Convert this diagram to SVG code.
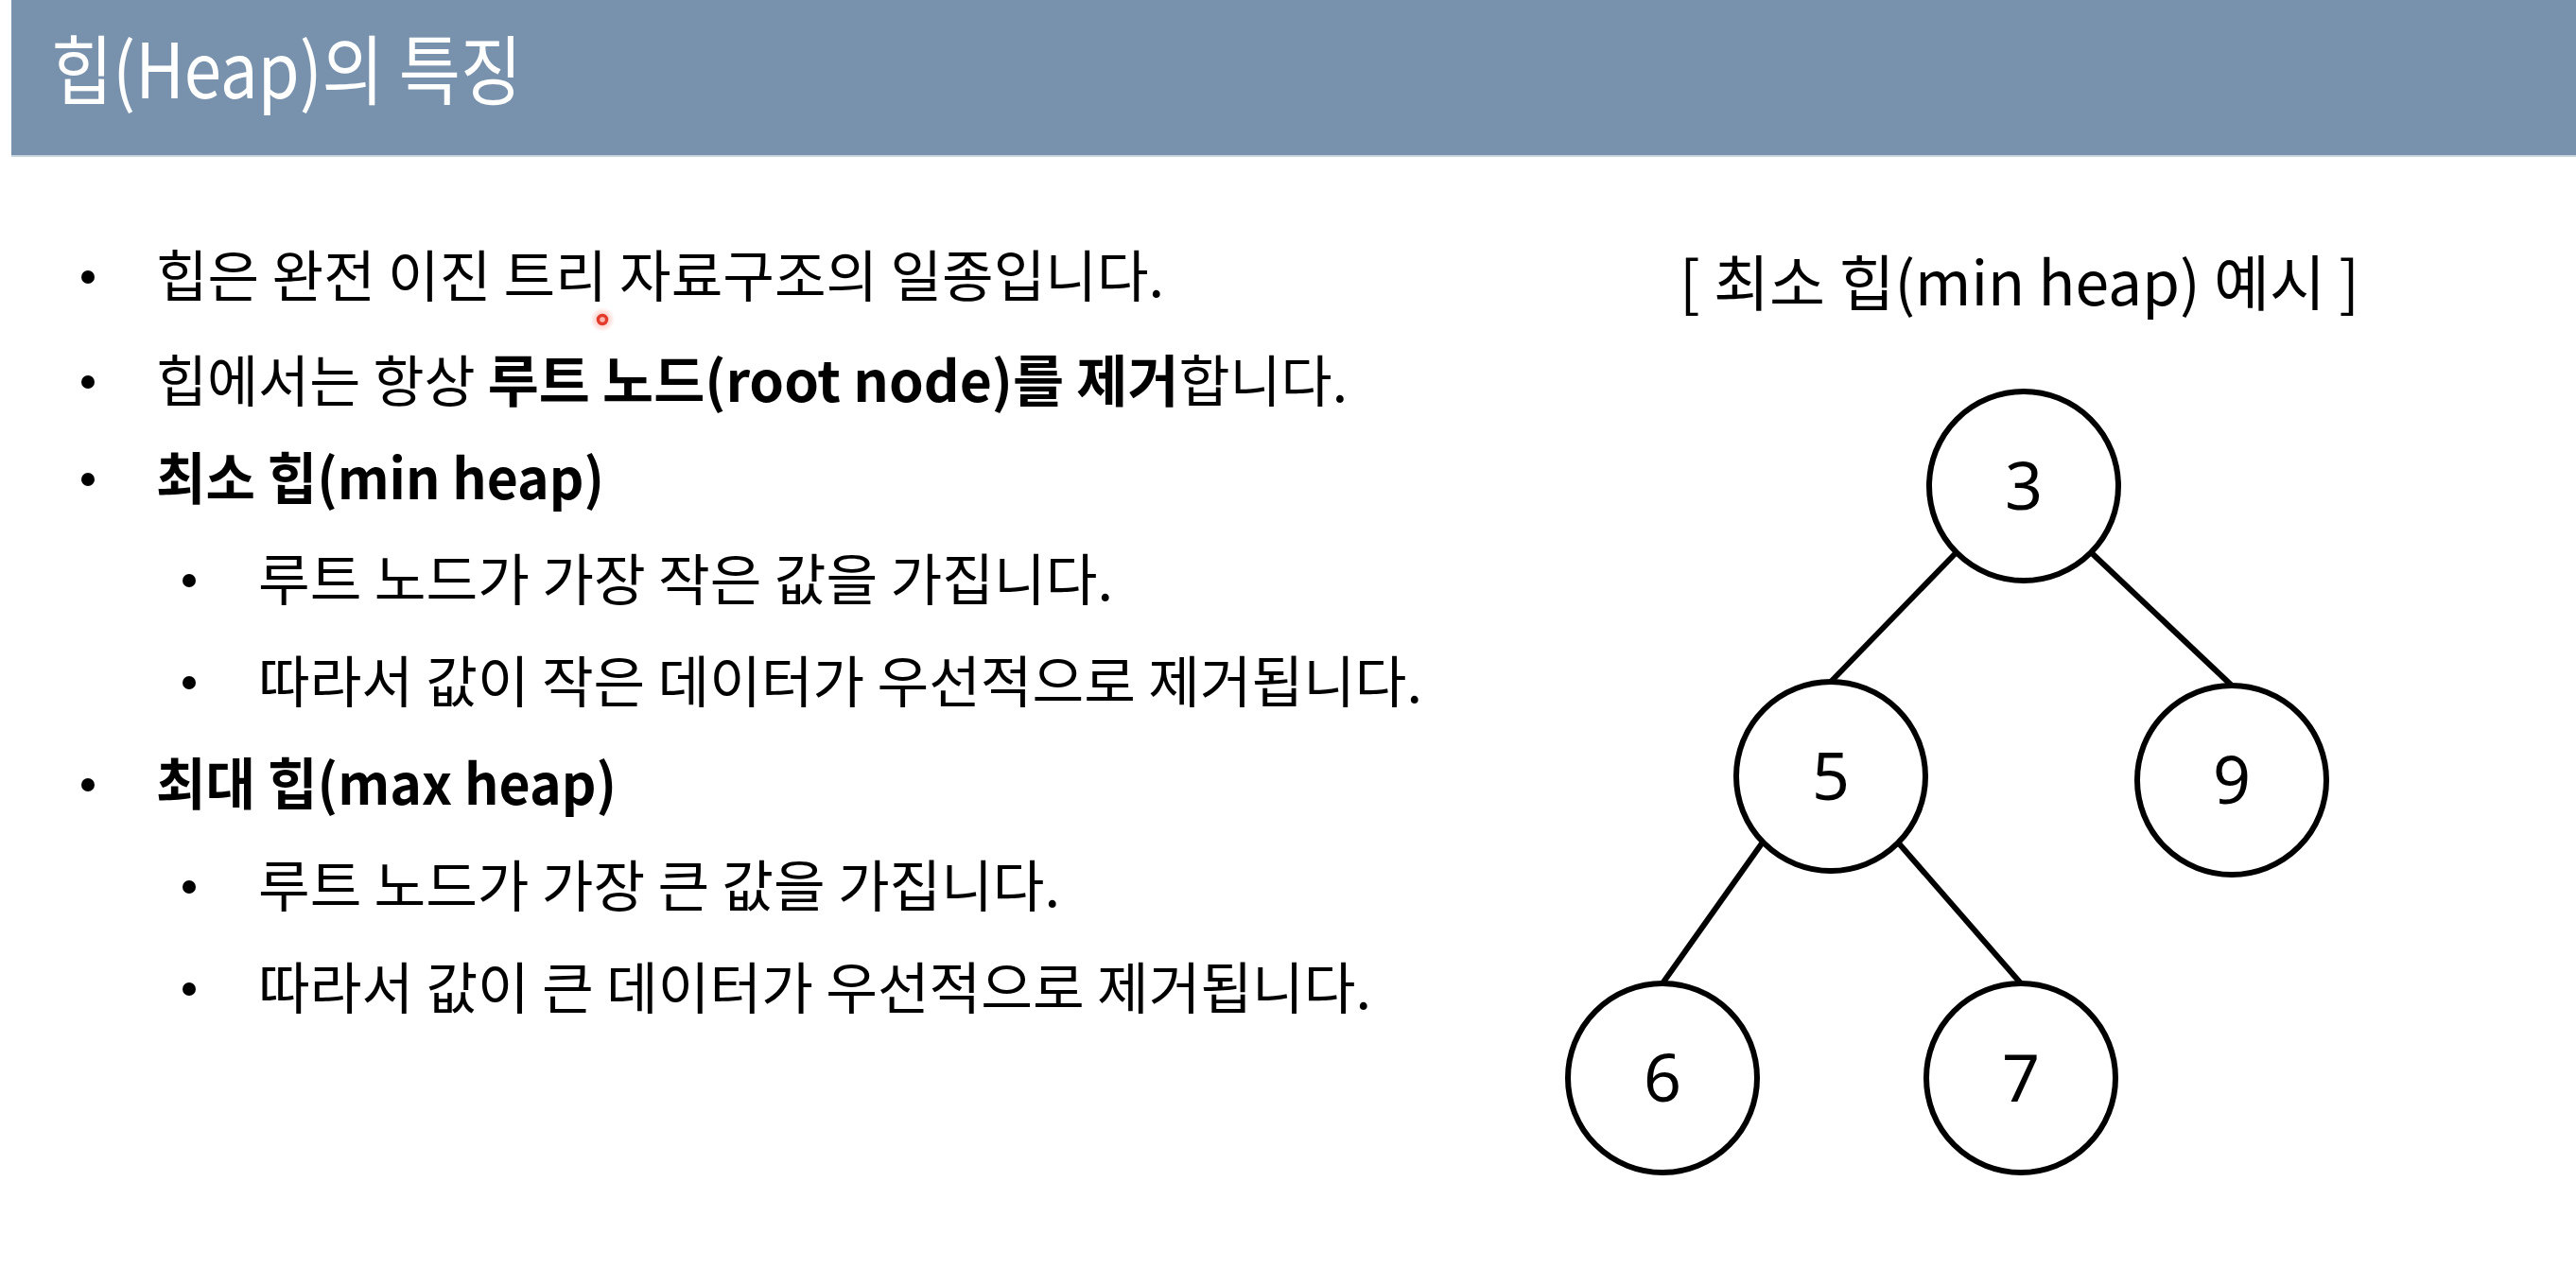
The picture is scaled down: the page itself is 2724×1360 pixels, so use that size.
<svg xmlns="http://www.w3.org/2000/svg" width="2724" height="1360" viewBox="0 0 2724 1360">
<defs>
<style>
.body{font-family:"Noto Sans CJK KR","Noto Sans",sans-serif;font-size:59px;fill:#000;}
.b{font-weight:bold;}
.dot{fill:#000;}
.node circle{fill:#fff;stroke:#000;stroke-width:6;}
.node text{font-family:"Noto Sans","Noto Sans CJK KR",sans-serif;font-size:70px;fill:#000;text-anchor:middle;}
.edge{stroke:#000;stroke-width:6;stroke-linecap:butt;}
</style>
<radialGradient id="glow">
<stop offset="0" stop-color="#ff6a5a" stop-opacity="0.55"/>
<stop offset="1" stop-color="#ff6a5a" stop-opacity="0"/>
</radialGradient>
</defs>
<rect x="0" y="0" width="2724" height="1360" fill="#ffffff"/>
<g id="header">
<rect x="12" y="0" width="2712" height="165" fill="#7892AD"/>
<rect x="12" y="164" width="2712" height="2" fill="#c9d5de"/>
<text x="54" y="104" font-family="'Noto Sans CJK KR','Noto Sans',sans-serif" font-size="80" fill="#ffffff" textLength="498" lengthAdjust="spacingAndGlyphs">힙(Heap)의 특징</text>
</g>
<g id="bullets">
<circle class="dot" cx="93" cy="293" r="7"/>
<text class="body" x="165" y="314" textLength="1066" lengthAdjust="spacingAndGlyphs">힙은 완전 이진 트리 자료구조의 일종입니다.</text>
<circle class="dot" cx="93" cy="404" r="7"/>
<text class="body" x="165" y="425" textLength="1260" lengthAdjust="spacingAndGlyphs">힙에서는 항상 <tspan class="b">루트 노드(root node)를 제거</tspan>합니다.</text>
<circle class="dot" cx="93" cy="507" r="7"/>
<text class="body b" x="165" y="528" textLength="474" lengthAdjust="spacingAndGlyphs">최소 힙(min heap)</text>
<circle class="dot" cx="200" cy="614" r="7"/>
<text class="body" x="273" y="635" textLength="904" lengthAdjust="spacingAndGlyphs">루트 노드가 가장 작은 값을 가집니다.</text>
<circle class="dot" cx="200" cy="722" r="7"/>
<text class="body" x="273" y="743" textLength="1231" lengthAdjust="spacingAndGlyphs">따라서 값이 작은 데이터가 우선적으로 제거됩니다.</text>
<circle class="dot" cx="93" cy="830" r="7"/>
<text class="body b" x="165" y="851" textLength="487" lengthAdjust="spacingAndGlyphs">최대 힙(max heap)</text>
<circle class="dot" cx="200" cy="938" r="7"/>
<text class="body" x="273" y="959" textLength="848" lengthAdjust="spacingAndGlyphs">루트 노드가 가장 큰 값을 가집니다.</text>
<circle class="dot" cx="200" cy="1046" r="7"/>
<text class="body" x="273" y="1067" textLength="1177" lengthAdjust="spacingAndGlyphs">따라서 값이 큰 데이터가 우선적으로 제거됩니다.</text>
</g>
<g id="cursor">
<circle cx="637" cy="338" r="13" fill="url(#glow)"/>
<circle cx="637" cy="338" r="4.5" fill="none" stroke="#e23b2c" stroke-width="3.5"/>
</g>
<text id="caption" x="1776" y="323" font-family="'Noto Sans CJK KR','Noto Sans',sans-serif" font-size="64" fill="#000" textLength="719" lengthAdjust="spacingAndGlyphs">[ 최소 힙(min heap) 예시 ]</text>
<g id="connectors">
<line class="edge" x1="2068" y1="585" x2="1936" y2="721"/>
<line class="edge" x1="2212" y1="585" x2="2360" y2="725"/>
<line class="edge" x1="1863" y1="892" x2="1758" y2="1040"/>
<line class="edge" x1="2008" y1="892" x2="2137" y2="1040"/>
</g>
<g id="node-3" class="node"><circle cx="2140" cy="514" r="100"/><text x="2140" y="539">3</text></g>
<g id="node-5" class="node"><circle cx="1936" cy="821" r="100"/><text x="1936" y="846">5</text></g>
<g id="node-9" class="node"><circle cx="2360" cy="825" r="100"/><text x="2360" y="850">9</text></g>
<g id="node-6" class="node"><circle cx="1758" cy="1140" r="100"/><text x="1758" y="1165">6</text></g>
<g id="node-7" class="node"><circle cx="2137" cy="1140" r="100"/><text x="2137" y="1165">7</text></g>
</svg>
